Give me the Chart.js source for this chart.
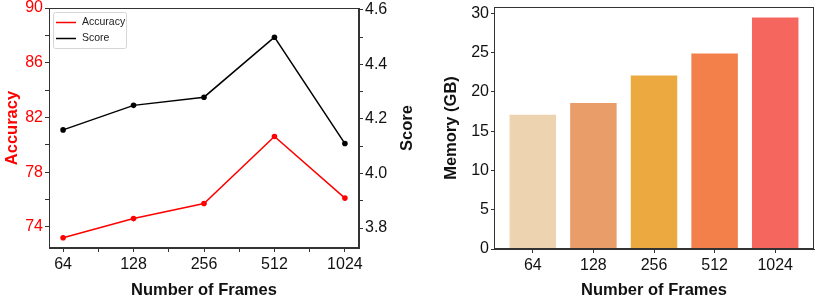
<!DOCTYPE html>
<html>
<head>
<meta charset="utf-8">
<script src="https://cdn.jsdelivr.net/npm/chart.js@4.4.1/dist/chart.umd.min.js"></script>
<style>
  html, body { margin: 0; padding: 0; background: #fff; }
  #wrap { position: relative; width: 830px; height: 301px; }
  #left { position: absolute; left: 0; top: 0; }
  #right { position: absolute; left: 420px; top: 0; }
</style>
</head>
<body>
<div id="wrap">
  <canvas id="left" width="420" height="301"></canvas>
  <canvas id="right" width="410" height="301"></canvas>
</div>
<script>
const frames = ['64', '128', '256', '512', '1024'];
const accuracy = [73.2, 74.6, 75.7, 80.6, 76.1];
const score = [4.16, 4.25, 4.28, 4.50, 4.11];
const memory = [17.2, 18.7, 22.2, 25.0, 29.6];

const accTicks = [74, 76, 78, 80, 82, 84, 86, 88, 90];
const accLabels = [74, 78, 82, 86, 90];
const scoreTicks = [3.8, 3.9, 4.0, 4.1, 4.2, 4.3, 4.4, 4.5, 4.6];
const scoreLabels = [3.8, 4.0, 4.2, 4.4, 4.6];
const memTicks = [0, 5, 10, 15, 20, 25, 30];
const barColors = ['#EDD3B0', '#E99E6A', '#EBA940', '#F37F4A', '#F4665E'];

const FONT = "'Liberation Sans', Arial, sans-serif";
const AXIS = '#333333';
Chart.defaults.font.family = FONT;
Chart.defaults.color = '#111';

// full box round the plot area, like matplotlib spines
const framePlugin = {
  id: 'frame',
  afterDraw(chart) {
    const a = chart.chartArea;
    const ctx = chart.ctx;
    ctx.save();
    ctx.strokeStyle = AXIS;
    ctx.lineWidth = 1;
    ctx.strokeRect(Math.round(a.left) + 0.5, Math.round(a.top) + 0.5,
      Math.round(a.right - a.left) - 1, Math.round(a.bottom - a.top) - 1);
    ctx.restore();
  }
};

// legend box in the upper left corner of the line chart
const boxLegend = {
  id: 'boxLegend',
  afterDraw(chart) {
    const ctx = chart.ctx;
    const x = 53.5, y = 12.5, w = 73, h = 36;
    ctx.save();
    ctx.fillStyle = 'rgba(255,255,255,0.9)';
    ctx.strokeStyle = '#d6d6d6';
    ctx.lineWidth = 1;
    ctx.beginPath();
    ctx.roundRect(x, y, w, h, 2);
    ctx.fill();
    ctx.stroke();
    ctx.font = '10.5px ' + FONT;
    ctx.textBaseline = 'middle';
    chart.data.datasets.forEach((ds, i) => {
      const ly = 22.5 + i * 16;
      ctx.strokeStyle = ds.borderColor;
      ctx.lineWidth = 1.5;
      ctx.beginPath();
      ctx.moveTo(56, ly);
      ctx.lineTo(76, ly);
      ctx.stroke();
      ctx.fillStyle = '#222';
      ctx.fillText(ds.label, 82, ly);
    });
    ctx.restore();
  }
};

// right axis title reads bottom to top, as in matplotlib
const scoreTitle = {
  id: 'scoreTitle',
  afterDraw(chart) {
    const a = chart.chartArea;
    const ctx = chart.ctx;
    ctx.save();
    ctx.translate(407, (a.top + a.bottom) / 2);
    ctx.rotate(-Math.PI / 2);
    ctx.font = 'bold 16.5px ' + FONT;
    ctx.fillStyle = '#111';
    ctx.textAlign = 'center';
    ctx.textBaseline = 'middle';
    ctx.fillText('Score', 0, 0);
    ctx.restore();
  }
};

function tickGrid() {
  return { drawOnChartArea: false, drawTicks: true, tickLength: 4, tickColor: AXIS, tickWidth: 1 };
}

function fixed(size, horizontal) {
  return s => {
    if (horizontal) s.height = size; else s.width = size;
    s.paddingTop = 0; s.paddingBottom = 0; s.paddingLeft = 0; s.paddingRight = 0;
  };
}

const xPositions = frames.flatMap((f, i) => i < frames.length - 1 ? [i, i + 0.5] : [i]);

new Chart(document.getElementById('left'), {
  type: 'line',
  data: {
    datasets: [
      {
        label: 'Accuracy',
        data: accuracy.map((v, i) => ({ x: i, y: v })),
        borderColor: '#ff0000',
        backgroundColor: '#ff0000',
        borderWidth: 1.5,
        pointRadius: 2.8,
        pointBorderWidth: 0,
        tension: 0,
        yAxisID: 'y'
      },
      {
        label: 'Score',
        data: score.map((v, i) => ({ x: i, y: v })),
        borderColor: '#000000',
        backgroundColor: '#000000',
        borderWidth: 1.5,
        pointRadius: 2.8,
        pointBorderWidth: 0,
        tension: 0,
        yAxisID: 'y1'
      }
    ]
  },
  options: {
    responsive: false,
    animation: false,
    devicePixelRatio: 1,
    layout: { padding: { top: 8, left: 0, right: 0, bottom: 0 } },
    plugins: { legend: { display: false }, tooltip: { enabled: false } },
    scales: {
      x: {
        type: 'linear',
        min: -0.2,
        max: 4.2,
        afterBuildTicks: s => { s.ticks = xPositions.map(v => ({ value: v })); },
        afterFit: fixed(53, true),
        grid: tickGrid(),
        border: { display: true, color: AXIS, width: 1 },
        ticks: {
          autoSkip: false,
          maxRotation: 0,
          padding: 3,
          color: '#111',
          font: { size: 16 },
          callback: v => Number.isInteger(v) ? frames[v] : ''
        },
        title: {
          display: true,
          text: 'Number of Frames',
          color: '#111',
          font: { size: 16.5, weight: 'bold' },
          padding: { top: 1, bottom: 1 }
        }
      },
      y: {
        position: 'left',
        min: 72.45,
        max: 90,
        afterBuildTicks: s => { s.ticks = accTicks.map(v => ({ value: v })); },
        afterFit: fixed(49, false),
        grid: tickGrid(),
        border: { display: true, color: AXIS, width: 1 },
        ticks: {
          autoSkip: false,
          padding: 2,
          color: '#ff0000',
          font: { size: 16 },
          callback: v => accLabels.includes(v) ? String(v) : ''
        },
        title: {
          display: true,
          text: 'Accuracy',
          color: '#ff0000',
          font: { size: 16.5, weight: 'bold' },
          padding: { top: 3, bottom: 3 }
        }
      },
      y1: {
        position: 'right',
        min: 3.727,
        max: 4.607,
        afterBuildTicks: s => { s.ticks = scoreTicks.map(v => ({ value: v })); },
        afterFit: fixed(61, false),
        grid: tickGrid(),
        border: { display: true, color: AXIS, width: 1 },
        ticks: {
          autoSkip: false,
          padding: 2,
          color: '#111',
          font: { size: 16 },
          callback: v => scoreLabels.some(l => Math.abs(l - v) < 1e-6) ? v.toFixed(1) : ''
        },
        title: { display: false }
      }
    }
  },
  plugins: [framePlugin, boxLegend, scoreTitle]
});

new Chart(document.getElementById('right'), {
  type: 'bar',
  data: {
    datasets: [{
      label: 'Memory (GB)',
      data: memory.map((v, i) => ({ x: i, y: v })),
      backgroundColor: barColors,
      borderColor: 'rgba(255,255,255,0.6)',
      borderWidth: 1,
      categoryPercentage: 0.8,
      barPercentage: 1.0
    }]
  },
  options: {
    responsive: false,
    animation: false,
    devicePixelRatio: 1,
    layout: { padding: { top: 7, left: 0, right: 16, bottom: 0 } },
    plugins: { legend: { display: false }, tooltip: { enabled: false } },
    scales: {
      x: {
        type: 'linear',
        offset: false,
        min: -0.64,
        max: 4.64,
        afterBuildTicks: s => { s.ticks = frames.map((f, i) => ({ value: i })); },
        afterFit: fixed(52, true),
        grid: Object.assign(tickGrid(), { offset: false }),
        border: { display: true, color: AXIS, width: 1 },
        ticks: {
          autoSkip: false,
          maxRotation: 0,
          padding: 3,
          color: '#111',
          font: { size: 16 },
          callback: v => frames[v]
        },
        title: {
          display: true,
          text: 'Number of Frames',
          color: '#111',
          font: { size: 16.5, weight: 'bold' },
          padding: { top: 1, bottom: 1 }
        }
      },
      y: {
        min: 0,
        max: 30.8,
        afterBuildTicks: s => { s.ticks = memTicks.map(v => ({ value: v })); },
        afterFit: fixed(74, false),
        grid: Object.assign(tickGrid(), { tickLength: 3 }),
        border: { display: true, color: AXIS, width: 1 },
        ticks: {
          autoSkip: false,
          padding: 2,
          color: '#111',
          font: { size: 16 }
        },
        title: {
          display: true,
          text: 'Memory (GB)',
          color: '#111',
          font: { size: 16.5, weight: 'bold' },
          padding: { top: 22, bottom: 22 }
        }
      }
    }
  },
  plugins: [framePlugin]
});
</script>
</body>
</html>
